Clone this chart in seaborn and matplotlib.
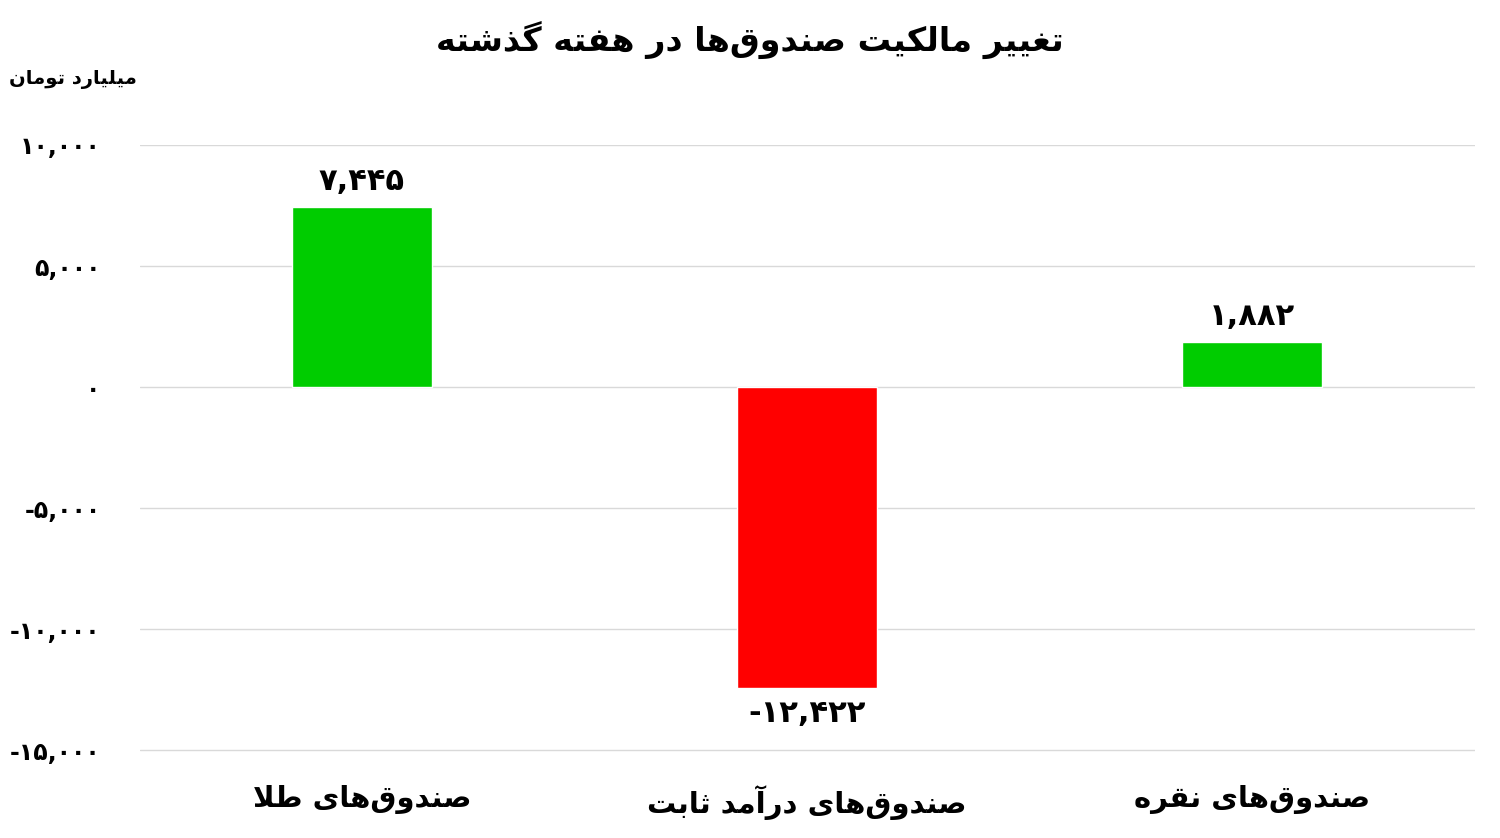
import matplotlib
matplotlib.use("Agg")
import matplotlib.pyplot as plt
import pandas as pd
import seaborn as sns

# chart data
categories = ["صندوق‌های طلا", "صندوق‌های درآمد ثابت", "صندوق‌های نقره"]
values = [7445, -12422, 1882]
yticks = [10000, 5000, 0, -5000, -10000, -15000]
title = "تغییر مالکیت صندوق‌ها در هفته گذشته"
unit = "میلیارد تومان"

# --- minimal Arabic/Persian shaping (no reshaper lib available) ---
FORMS = {
    "\u0627": ("\uFE8D", "\uFE8E"),
    "\u0622": ("\uFE81", "\uFE82"),
    "\u062F": ("\uFEA9", "\uFEAA"),
    "\u0630": ("\uFEAB", "\uFEAC"),
    "\u0631": ("\uFEAD", "\uFEAE"),
    "\u0648": ("\uFEED", "\uFEEE"),
    "\u0628": ("\uFE8F", "\uFE90", "\uFE91", "\uFE92"),
    "\u062A": ("\uFE95", "\uFE96", "\uFE97", "\uFE98"),
    "\u062B": ("\uFE99", "\uFE9A", "\uFE9B", "\uFE9C"),
    "\u0634": ("\uFEB5", "\uFEB6", "\uFEB7", "\uFEB8"),
    "\u0635": ("\uFEB9", "\uFEBA", "\uFEBB", "\uFEBC"),
    "\u0637": ("\uFEC1", "\uFEC2", "\uFEC3", "\uFEC4"),
    "\u063A": ("\uFECD", "\uFECE", "\uFECF", "\uFED0"),
    "\u0641": ("\uFED1", "\uFED2", "\uFED3", "\uFED4"),
    "\u0642": ("\uFED5", "\uFED6", "\uFED7", "\uFED8"),
    "\u0644": ("\uFEDD", "\uFEDE", "\uFEDF", "\uFEE0"),
    "\u0645": ("\uFEE1", "\uFEE2", "\uFEE3", "\uFEE4"),
    "\u0646": ("\uFEE5", "\uFEE6", "\uFEE7", "\uFEE8"),
    "\u0647": ("\uFEE9", "\uFEEA", "\uFEEB", "\uFEEC"),
    "\u06CC": ("\uFBFC", "\uFBFD", "\uFBFE", "\uFBFF"),
    "\u06A9": ("\uFB8E", "\uFB8F", "\uFB90", "\uFB91"),
    "\u06AF": ("\uFB92", "\uFB93", "\uFB94", "\uFB95"),
}


def shape(text):
    chars = list(text)
    out = []
    i = 0
    while i < len(chars):
        c = chars[i]
        if c not in FORMS:
            if c != "\u200c":
                out.append(c)
            i += 1
            continue
        prev = chars[i - 1] if i > 0 else None
        joins_prev = prev in FORMS and len(FORMS[prev]) == 4
        # lam-alef ligature
        if c == "\u0644" and i + 1 < len(chars) and chars[i + 1] == "\u0627":
            out.append("\uFEFC" if joins_prev else "\uFEFB")
            i += 2
            continue
        nxt = chars[i + 1] if i + 1 < len(chars) else None
        f = FORMS[c]
        joins_next = len(f) == 4 and nxt in FORMS
        if joins_prev and joins_next:
            out.append(f[3])
        elif joins_next:
            out.append(f[2])
        elif joins_prev:
            out.append(f[1])
        else:
            out.append(f[0])
        i += 1
    return "".join(reversed(out))


FA_DIGITS = str.maketrans("0123456789", "۰۱۲۳۴۵۶۷۸۹")


def fa_num(v):
    return f"{v:,}".translate(FA_DIGITS)


sns.set_style("white")
plt.rcParams["font.family"] = ["DejaVu Sans"]
plt.rcParams["text.color"] = "black"
plt.rcParams["xtick.color"] = "black"
plt.rcParams["ytick.color"] = "black"

df = pd.DataFrame({"cat": [shape(c) for c in categories], "val": values})
df["sign"] = ["pos" if v >= 0 else "neg" for v in values]

fig = plt.figure(figsize=(15, 8.38), dpi=100)
ax = fig.add_axes([0.093, 0.103, 0.89, 0.724])

sns.barplot(data=df, x="cat", y="val", hue="sign",
            palette={"pos": "#00CC00", "neg": "#FF0000"}, saturation=1,
            width=0.315, dodge=False, legend=False, ax=ax, zorder=3)

ax.set_ylim(-15060, 10000)
ax.set_xlim(-0.5, 2.5)
ax.set_yticks(yticks)
ax.set_yticklabels([fa_num(t) for t in yticks], fontsize=17, fontweight="bold")
ax.tick_params(axis="y", length=0, pad=28)
ax.tick_params(axis="x", length=0, pad=24, labelsize=21)
for lbl in ax.get_xticklabels():
    lbl.set_fontweight("bold")
ax.grid(axis="y", color="#d9d9d9", linewidth=1, zorder=0)
ax.set_xlabel("")
ax.set_ylabel("")
for s in ax.spines.values():
    s.set_visible(False)

for i, v in enumerate(values):
    off = 450 if v >= 0 else -450
    ax.text(i, v + off, fa_num(v), ha="center",
            va="bottom" if v >= 0 else "top",
            fontsize=22, fontweight="bold")

fig.text(0.5, 0.952, shape(title), ha="center", va="center",
         fontsize=24, fontweight="bold")
fig.text(0.006, 0.905, shape(unit), ha="left", va="center",
         fontsize=14, fontweight="bold")

fig.savefig("out.png", dpi=100)
